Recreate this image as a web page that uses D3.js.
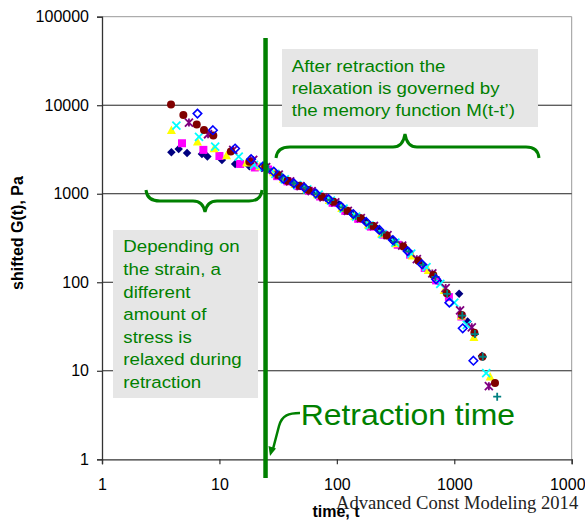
<!DOCTYPE html>
<html lang="en">
<head>
<meta charset="UTF-8">
<title>Shifted G(t) vs time</title>
<script src="https://d3js.org/d3.v7.min.js"></script>
<style>
    body { margin: 0; padding: 0; background: #fff; }
    svg { display: block; font-family: "Liberation Sans", Arial, sans-serif; }
    .note { fill: #008000; }
</style>
</head>
<body>
<div id="chart"></div>
<script>
    // tick values
    const xTicks = [1, 10, 100, 1000, 10000];
    const yTicks = [1, 10, 100, 1000, 10000, 100000];
    const retractionTime = 24.7;

    // series: time t and shifted G(t), Pa
    const navyT = [3.9, 4.5, 5.3, 7.1, 7.9, 10.5, 13.6, 18, 23, 27, 33, 41, 52, 64, 82, 104, 134, 172, 222, 295, 400, 540, 730, 1100, 1300, 1720];
    const navyG = [2940, 3210, 2890, 2820, 2630, 2410, 2170, 2050, 1950, 1830, 1560, 1340, 1190, 1040, 880, 760, 600, 495, 400, 305, 228, 158, 103, 74, 36, 14.7];

    const magentaT = [4.8, 7.3, 10, 15, 20, 26, 31, 38, 47, 58, 72, 92, 118, 152, 195, 250, 330, 420, 560, 700, 900, 1150];
    const magentaG = [3720, 3130, 2670, 2170, 1980, 1880, 1580, 1380, 1220, 1080, 930, 790, 640, 520, 425, 345, 265, 205, 145, 105, 68, 41];

    const yellowT = [3.9, 6.5, 9, 11.5, 17, 22, 29, 35, 44, 55, 68, 86, 110, 142, 185, 240, 320, 440, 600, 820, 1150, 1470, 2020];
    const yellowG = [5260, 3880, 3270, 2720, 2250, 2050, 1750, 1480, 1290, 1140, 990, 850, 690, 560, 450, 355, 275, 200, 138, 82, 42, 24, 8.6];

    const cyanT = [4.3, 6.7, 9.2, 14.6, 19.7, 24, 30, 36, 46, 56, 70, 89, 114, 146, 190, 245, 315, 430, 580, 760, 1000, 1280, 1870];
    const cyanG = [5880, 4390, 3410, 2630, 2120, 2010, 1680, 1450, 1250, 1120, 980, 835, 680, 550, 440, 350, 280, 210, 148, 96, 59, 33, 9.4];

    const purpleT = [5.5, 8.0, 13.1, 19.4, 25, 32, 40, 49, 61, 77, 97, 124, 160, 207, 270, 360, 480, 650, 845, 1120, 1410, 1970];
    const purpleG = [6360, 4700, 3130, 2410, 2000, 1640, 1380, 1220, 1070, 910, 800, 640, 530, 432, 340, 260, 182, 126, 86, 48, 31, 6.7];

    const maroonT = [3.87, 4.93, 6.41, 7.39, 8.87, 12.5, 18, 24.5, 31.7, 37.9, 47.9, 57.2, 74.3, 93.3, 122.8, 159.6, 204.5, 266, 368, 494, 663, 863, 1158, 1483, 1735, 2223];
    const maroonG = [10160, 7770, 6040, 5260, 4540, 3000, 2300, 2024, 1631, 1406, 1234, 1104, 927, 814, 644, 528, 432, 338, 253, 175, 121, 75, 42.7, 26.9, 14.4, 7.3];

    const tealT = [26, 34, 43, 54, 68, 88, 112, 145, 188, 240, 310, 410, 540, 690, 870, 1170, 1500, 1750, 2320];
    const tealG = [1900, 1560, 1320, 1170, 1000, 850, 700, 560, 450, 365, 285, 222, 157, 115, 74, 42, 26, 14.4, 5.1];

    const blueT = [6.5, 8.8, 13.6, 18.6, 23.5, 29, 35, 43, 53, 66, 85, 108, 138, 178, 230, 300, 400, 530, 700, 908, 1180, 1455];
    const blueG = [8040, 5220, 3240, 2460, 2040, 1780, 1470, 1310, 1170, 1010, 870, 720, 590, 480, 390, 300, 225, 160, 108, 58.8, 30.2, 13];

    const series = [
        { t: navyT, g: navyG, color: "#000080", shape: "diamond" },
        { t: magentaT, g: magentaG, color: "#ff00ff", shape: "square" },
        { t: yellowT, g: yellowG, color: "#ffff00", shape: "triangle" },
        { t: cyanT, g: cyanG, color: "#00ffff", shape: "cross" },
        { t: purpleT, g: purpleG, color: "#800080", shape: "star" },
        { t: maroonT, g: maroonG, color: "#800000", shape: "circle" },
        { t: tealT, g: tealG, color: "#008080", shape: "plus" },
        { t: blueT, g: blueG, color: "#0000ff", shape: "openDiamond" }
    ];

    const W = 585, H = 521;
    const svg = d3.select("#chart").append("svg").attr("width", W).attr("height", H);

    const x = d3.scaleLog().domain([1, 10000]).range([102, 571.7]);
    const y = d3.scaleLog().domain([1, 100000]).range([459.3, 16.7]);

    // plot frame
    svg.append("line").attr("x1", x(1)).attr("x2", x(10000)).attr("y1", y(100000)).attr("y2", y(100000))
        .attr("stroke", "#999").attr("stroke-width", 1);
    svg.append("line").attr("x1", x(10000)).attr("x2", x(10000)).attr("y1", y(100000)).attr("y2", y(1))
        .attr("stroke", "#999").attr("stroke-width", 1);

    // gridlines
    svg.append("g").selectAll("line").data([10, 100, 1000, 10000]).join("line")
        .attr("x1", x(1)).attr("x2", x(10000))
        .attr("y1", d => y(d)).attr("y2", d => y(d))
        .attr("stroke", "#222").attr("stroke-width", 1);

    // axes
    const yAxis = svg.append("g").attr("transform", `translate(${x(1)},0)`)
        .call(d3.axisLeft(y).tickValues(yTicks).tickFormat(d3.format("d")).tickSize(5).tickPadding(8));
    const xAxis = svg.append("g").attr("transform", `translate(0,${y(1)})`)
        .call(d3.axisBottom(x).tickValues(xTicks).tickFormat(d3.format("d")).tickSize(5).tickPadding(14));
    [xAxis, yAxis].forEach(a => {
        a.select(".domain").attr("stroke", "#333").attr("stroke-width", 1.3);
        a.selectAll(".tick line").attr("stroke", "#333").attr("stroke-width", 1.2);
        a.selectAll(".tick text").attr("font-size", 16).attr("fill", "#000")
            .attr("font-family", "'Liberation Sans', Arial, sans-serif");
    });

    // markers
    function markerPath(shape, s) {
        const p = d3.path();
        const r = s / 2;
        if (shape === "diamond" || shape === "openDiamond") {
            p.moveTo(0, -r); p.lineTo(r, 0); p.lineTo(0, r); p.lineTo(-r, 0); p.closePath();
        } else if (shape === "square") {
            p.rect(-r, -r, s, s);
        } else if (shape === "triangle") {
            p.moveTo(0, -r - 0.5); p.lineTo(r + 0.5, r); p.lineTo(-r - 0.5, r); p.closePath();
        } else if (shape === "circle") {
            p.arc(0, 0, r, 0, 2 * Math.PI);
        } else if (shape === "cross") {
            p.moveTo(-r, -r); p.lineTo(r, r); p.moveTo(r, -r); p.lineTo(-r, r);
        } else if (shape === "plus") {
            p.moveTo(-r, 0); p.lineTo(r, 0); p.moveTo(0, -r); p.lineTo(0, r);
        } else if (shape === "star") {
            p.moveTo(-r, -r); p.lineTo(r, r); p.moveTo(r, -r); p.lineTo(-r, r);
            p.moveTo(0, -r); p.lineTo(0, r);
        }
        return p.toString();
    }

    const marks = svg.append("g");
    series.forEach(s => {
        const pts = s.t.map((t, i) => ({ t: t, g: s.g[i] }));
        const filled = ["diamond", "square", "triangle", "circle"].includes(s.shape);
        const size = s.shape === "diamond" || s.shape === "openDiamond" ? 8.5 : 8;
        marks.append("g").selectAll("path").data(pts).join("path")
            .attr("transform", d => `translate(${x(d.t)},${y(d.g)})`)
            .attr("d", markerPath(s.shape, size))
            .attr("fill", filled ? s.color : "none")
            .attr("stroke", filled ? "none" : s.color)
            .attr("stroke-width", s.shape === "openDiamond" ? 1.6 : 1.8);
    });

    // retraction time line
    svg.append("line")
        .attr("x1", x(retractionTime)).attr("x2", x(retractionTime))
        .attr("y1", 38).attr("y2", 478)
        .attr("stroke", "#008000").attr("stroke-width", 4.5);

    // annotation boxes
    svg.append("rect").attr("x", 282).attr("y", 49).attr("width", 256).attr("height", 78).attr("fill", "#e6e6e6");
    svg.append("rect").attr("x", 113).attr("y", 230).attr("width", 145).attr("height", 168).attr("fill", "#e6e6e6");

    function noteLines(lines, x0, y0, dy, size) {
        lines.forEach((l, i) => {
            svg.append("text").attr("class", "note")
                .attr("transform", `translate(${x0},${y0 + i * dy}) scale(1.1,1)`)
                .attr("font-size", size)
                .text(l);
        });
    }
    noteLines(["After retraction the", "relaxation is governed by", "the memory function M(t-t\u2019)"], 291.7, 71.7, 22.2, 17);
    noteLines(["Depending on", "the strain, a", "different", "amount of", "stress is", "relaxed during", "retraction"], 123.3, 252.3, 22.6, 17);
    noteLines(["Retraction time"], 300.7, 425, 0, 29);

    // braces
    svg.append("path")
        .attr("d", "M276,158 Q277,147 290,147 L393,147 Q403,147 405,134 Q407,147 417,147 L526,147 Q538,147 539,158")
        .attr("fill", "none").attr("stroke", "#008000").attr("stroke-width", 3);
    svg.append("path")
        .attr("d", "M146,190 Q147,201 160,201 L193,201 Q203,201 205,212 Q207,201 217,201 L249,201 Q261,201 262,190")
        .attr("fill", "none").attr("stroke", "#008000").attr("stroke-width", 3);

    // arrow to retraction time
    svg.append("path")
        .attr("d", "M300,413 C289,413 282,415 279,426 L273,449")
        .attr("fill", "none").attr("stroke", "#008000").attr("stroke-width", 2.5);
    svg.append("path")
        .attr("d", "M270,456 L268.5,446 L276,448.5 Z")
        .attr("fill", "#008000");

    // axis titles
    svg.append("text")
        .attr("transform", `translate(23,233) rotate(-90)`)
        .attr("text-anchor", "middle").attr("font-weight", "bold").attr("font-size", 16)
        .text("shifted G(t), Pa");
    svg.append("text")
        .attr("x", 336).attr("y", 516.7)
        .attr("text-anchor", "middle").attr("font-weight", "bold").attr("font-size", 16)
        .text("time, t");

    // footer
    svg.append("text")
        .attr("x", 336).attr("y", 509)
        .attr("font-family", "'Liberation Serif', 'Times New Roman', serif")
        .attr("font-size", 18.6).attr("fill", "#222")
        .text("Advanced Const Modeling 2014");
</script>
</body>
</html>
